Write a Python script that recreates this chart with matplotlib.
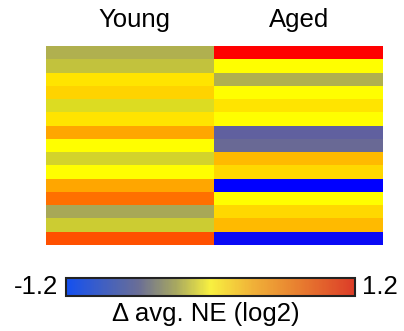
import numpy as np
import matplotlib
matplotlib.use("Agg")
import matplotlib.pyplot as plt
from matplotlib.colors import LinearSegmentedColormap, Normalize
from matplotlib.colorbar import ColorbarBase

columns = ["Young", "Aged"]
young = [-0.37, -0.29, 0.13, 0.20, -0.16, 0.13, 0.42, 0.0, -0.20, 0.0, 0.42, 0.67, -0.41, -0.24, 0.82]
aged = [1.2, 0.0, -0.37, 0.0, 0.13, 0.0, -0.75, -0.70, 0.32, 0.18, -1.2, 0.0, 0.18, 0.32, -1.15]
vmin, vmax = -1.2, 1.2
cbar_label = "\u0394 avg. NE (log2)"

plt.rcParams['font.family'] = ['Liberation Sans', 'DejaVu Sans']

heat_cmap = LinearSegmentedColormap.from_list(
    "heat", [(0.0, (0, 0, 1)), (0.5, (1, 1, 0)), (1.0, (1, 0, 0))])
bar_cmap = LinearSegmentedColormap.from_list(
    "bar", [(0.0, "#1450f0"), (0.25, "#6a6e96"), (0.38, "#a8a860"), (0.5, "#f8f040"),
            (0.65, "#f0b038"), (0.8, "#e88030"), (1.0, "#dc3c28")])

fig = plt.figure(figsize=(4.04, 3.31), dpi=100)
W, H = 404, 331

ax = fig.add_axes([46 / W, 1 - 245 / H, (383 - 46) / W, (245 - 46) / H])
data = np.array([young, aged]).T
ax.imshow(data, cmap=heat_cmap, norm=Normalize(vmin, vmax), aspect='auto',
          interpolation='nearest')
ax.set_xticks([])
ax.set_yticks([])
for s in ax.spines.values():
    s.set_visible(False)

for i, name in enumerate(columns):
    fig.text((134 if i == 0 else 299) / W, 1 - 20 / H, name, ha='center', va='center',
             fontsize=18.5)

cax = fig.add_axes([66 / W, 1 - 296 / H, (355 - 66) / W, (296 - 278) / H])
cb = ColorbarBase(cax, cmap=bar_cmap, norm=Normalize(vmin, vmax), orientation='horizontal')
cb.set_ticks([])
cb.outline.set_linewidth(1.5)
cb.outline.set_edgecolor('#222222')
fig.text(58 / W, 1 - 287 / H, "-1.2", ha='right', va='center', fontsize=18.5)
fig.text(362 / W, 1 - 287 / H, "1.2", ha='left', va='center', fontsize=18.5)
fig.text(206 / W, 1 - 314 / H, cbar_label, ha='center', va='center', fontsize=18.5)

fig.savefig("out.png", dpi=100)
